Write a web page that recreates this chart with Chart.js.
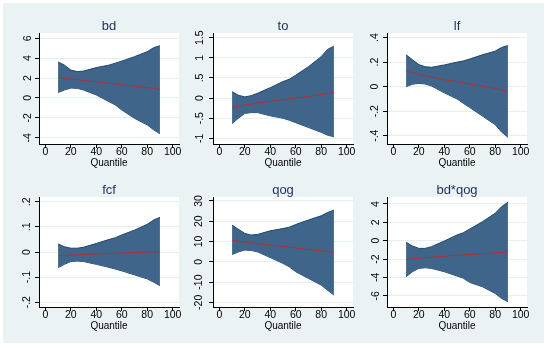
<!DOCTYPE html>
<html>
<head>
<meta charset="utf-8">
<script src="https://cdn.jsdelivr.net/npm/chart.js@4"></script>
<style>
  body { margin: 0; background: #fff; }
  #wrap { position: relative; width: 550px; height: 350px; overflow: hidden; }
  #bg { position: absolute; left: 3px; top: 3px; width: 541px; height: 340px; background: #eaf2f3; }
  canvas { position: absolute; }
</style>
</head>
<body>
<div id="wrap"><div id="bg"></div></div>
<script>
// quantiles where the coefficients were estimated
var quantiles = [10, 15, 20, 25, 30, 40, 50, 55, 60, 70, 80, 85, 90];
var xTicks = [0, 20, 40, 60, 80, 100];

// bd
var bdCoef  = [2.05, 1.98, 1.9, 1.83, 1.76, 1.64, 1.48, 1.4, 1.31, 1.18, 1.04, 0.95, 0.86];
var bdUpper = [3.62, 3.3, 2.8, 2.65, 2.7, 3.05, 3.3, 3.5, 3.7, 4.15, 4.65, 5.05, 5.25];
var bdLower = [0.55, 0.8, 1.0, 0.97, 0.8, 0.3, -0.37, -0.7, -1.2, -2.05, -2.7, -3.2, -3.6];
var bdTicks = [-4, -2, 0, 2, 4, 6];

// to
var toCoef  = [-0.23, -0.2, -0.17, -0.15, -0.12, -0.08, -0.04, -0.02, 0.0, 0.04, 0.09, 0.12, 0.15];
var toUpper = [0.16, 0.07, 0.03, 0.06, 0.12, 0.26, 0.41, 0.47, 0.57, 0.78, 1.03, 1.21, 1.29];
var toLower = [-0.63, -0.5, -0.38, -0.36, -0.36, -0.44, -0.5, -0.55, -0.61, -0.73, -0.85, -0.92, -0.96];
var toTicks = [-1, -0.5, 0, 0.5, 1, 1.5];

// lf
var lfCoef  = [0.128, 0.115, 0.1, 0.088, 0.076, 0.056, 0.04, 0.032, 0.022, 0.003, -0.014, -0.027, -0.04];
var lfUpper = [0.26, 0.22, 0.18, 0.163, 0.158, 0.177, 0.2, 0.21, 0.226, 0.26, 0.29, 0.32, 0.335];
var lfLower = [0.0, 0.02, 0.027, 0.022, 0.005, -0.05, -0.1, -0.136, -0.17, -0.24, -0.31, -0.37, -0.413];
var lfTicks = [-0.4, -0.2, 0, 0.2, 0.4];

// fcf
var fcfCoef  = [-0.015, -0.014, -0.012, -0.011, -0.01, -0.008, -0.006, -0.005, -0.004, -0.002, 0.0, 0.0, 0.001];
var fcfUpper = [0.032, 0.021, 0.015, 0.015, 0.019, 0.034, 0.05, 0.057, 0.068, 0.087, 0.11, 0.127, 0.138];
var fcfLower = [-0.062, -0.049, -0.038, -0.036, -0.038, -0.049, -0.061, -0.068, -0.075, -0.091, -0.107, -0.12, -0.134];
var fcfTicks = [-0.2, -0.1, 0, 0.1, 0.2];

// qog
var qogCoef  = [10.7, 10.2, 9.8, 9.4, 9.0, 8.3, 7.6, 7.2, 6.9, 6.1, 5.4, 5.0, 4.6];
var qogUpper = [18.1, 16, 14, 13.2, 13.5, 15.3, 16.4, 17.1, 18.4, 20.6, 22.7, 24.3, 25.5];
var qogLower = [3.6, 4.9, 5.8, 5.6, 4.9, 2.1, -0.8, -2.5, -4.9, -8.2, -11.5, -14, -16.4];
var qogTicks = [-20, -10, 0, 10, 20, 30];

// bd*qog
var bdqCoef  = [-2.04, -1.98, -1.92, -1.86, -1.8, -1.7, -1.6, -1.56, -1.52, -1.43, -1.33, -1.29, -1.24];
var bdqUpper = [-0.18, -0.58, -0.84, -0.84, -0.65, -0.04, 0.62, 0.87, 1.27, 2.07, 2.98, 3.7, 4.18];
var bdqLower = [-3.93, -3.38, -3.02, -2.95, -3.02, -3.38, -3.85, -4.1, -4.55, -5.02, -5.75, -6.3, -6.65];
var bdqTicks = [-6, -4, -2, 0, 2, 4];

var panels = [
    { title: 'bd', coef: bdCoef, upper: bdUpper, lower: bdLower, ticks: bdTicks, min: -4.63, max: 6.53 },
    { title: 'to', coef: toCoef, upper: toUpper, lower: toLower, ticks: toTicks, min: -1.14, max: 1.617 },
    { title: 'lf', coef: lfCoef, upper: lfUpper, lower: lfLower, ticks: lfTicks, min: -0.468, max: 0.438 },
    { title: 'fcf', coef: fcfCoef, upper: fcfUpper, lower: fcfLower, ticks: fcfTicks, min: -0.219, max: 0.219 },
    { title: 'qog', coef: qogCoef, upper: qogUpper, lower: qogLower, ticks: qogTicks, min: -22.3, max: 31.97 },
    { title: 'bd*qog', coef: bdqCoef, upper: bdqUpper, lower: bdqLower, ticks: bdqTicks, min: -7.23, max: 4.76 }
];

var colLeft = [39, 213, 387];
var rowTop = [33, 197];
var rowH = [111, 110];
var plotW = 140;
var yAxisW = 36, titleH = 16, xAxisH = 30, padRight = 12;

function fmt(v) {
    var s = String(+v.toFixed(2));
    return s.replace(/^(-?)0\./, '$1.');
}

var font = 'Liberation Sans, Arial, sans-serif';

// white plot region + panel title centred over it
var panelDeco = {
    id: 'panelDeco',
    beforeDraw: function (chart) {
        var a = chart.chartArea, ctx = chart.ctx;
        ctx.save();
        ctx.fillStyle = '#ffffff';
        ctx.fillRect(a.left, a.top, a.right - a.left, a.bottom - a.top);
        ctx.restore();
    },
    afterDraw: function (chart) {
        var a = chart.chartArea, ctx = chart.ctx;
        ctx.save();
        ctx.fillStyle = '#1f2f5a';
        ctx.font = '13px ' + font;
        ctx.textAlign = 'center';
        ctx.textBaseline = 'middle';
        ctx.fillText(chart.options.panelTitle, (a.left + a.right) / 2, a.top - 7);
        ctx.restore();
    }
};

panels.forEach(function (p, i) {
    var col = i % 3, row = Math.floor(i / 3);
    var cv = document.createElement('canvas');
    var w = yAxisW + plotW + padRight, h = titleH + rowH[row] + xAxisH;
    cv.width = w; cv.height = h;
    cv.style.width = w + 'px'; cv.style.height = h + 'px';
    cv.style.left = (colLeft[col] - yAxisW) + 'px';
    cv.style.top = (rowTop[row] - titleH) + 'px';
    document.getElementById('wrap').appendChild(cv);

    var pts = function (arr) {
        return quantiles.map(function (q, k) { return { x: q, y: arr[k] }; });
    };

    new Chart(cv.getContext('2d'), {
        type: 'line',
        data: {
            datasets: [
                { data: pts(p.coef), borderColor: '#b0303a', borderWidth: 1, pointRadius: 0, fill: false, tension: 0 },
                { data: pts(p.upper), borderColor: '#1a476f', borderWidth: 1, pointRadius: 0, tension: 0,
                  fill: '+1', backgroundColor: '#40658a' },
                { data: pts(p.lower), borderColor: '#1a476f', borderWidth: 1, pointRadius: 0, tension: 0, fill: false }
            ]
        },
        options: {
            panelTitle: p.title,
            responsive: false,
            animation: false,
            events: [],
            layout: { padding: { left: 0, top: titleH, right: padRight, bottom: 0 } },
            plugins: {
                legend: { display: false },
                tooltip: { enabled: false },
                title: { display: false }
            },
            scales: {
                x: {
                    type: 'linear', min: -5, max: 105,
                    afterBuildTicks: function (s) { s.ticks = xTicks.map(function (v) { return { value: v }; }); },
                    afterFit: function (s) { s.height = xAxisH; },
                    grid: { drawOnChartArea: false, drawTicks: true, tickLength: 4, tickColor: '#000' },
                    border: { display: true, color: '#000', width: 1 },
                    ticks: { color: '#000', padding: -2, maxRotation: 0, font: { family: font, size: 10.5 } },
                    title: { display: true, text: 'Quantile', color: '#000', padding: { top: 0, bottom: 5 },
                             font: { family: font, size: 10, lineHeight: '11px' } }
                },
                y: {
                    type: 'linear', min: p.min, max: p.max,
                    afterBuildTicks: function (s) { s.ticks = p.ticks.map(function (v) { return { value: v }; }); },
                    afterFit: function (s) { s.width = yAxisW; },
                    grid: { color: '#e6eef0', lineWidth: 1, drawTicks: true, tickLength: 4, tickColor: '#000' },
                    border: { display: true, color: '#000', width: 1 },
                    ticks: { color: '#000', padding: 2, minRotation: 90, maxRotation: 90, crossAlign: 'center',
                             font: { family: font, size: 10.5 }, callback: function (v) { return fmt(v); } }
                }
            }
        },
        plugins: [panelDeco]
    });
});
</script>
</body>
</html>
